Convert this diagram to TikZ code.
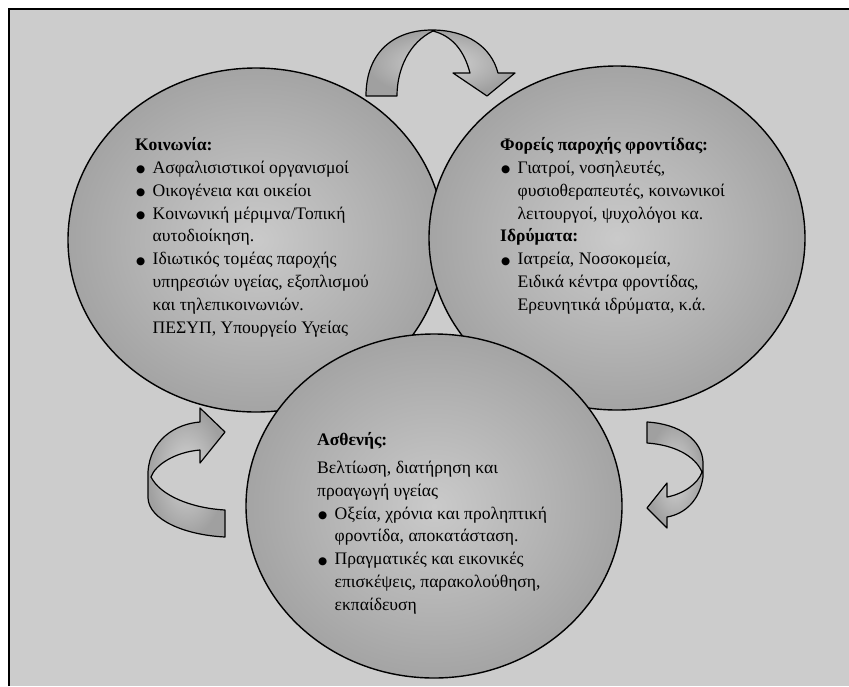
\documentclass[tikz,border=0pt]{standalone}
\usepackage{fontspec}
\setmainfont{Liberation Serif}
\newfontfamily\symfont{DejaVu Sans}
\usetikzlibrary{shapes.geometric}
\definecolor{bg}{RGB}{204,204,204}
\definecolor{ellin}{RGB}{202,202,202}
\definecolor{ellout}{RGB}{164,164,164}
\definecolor{arrin}{RGB}{214,214,214}
\definecolor{arrout}{RGB}{160,160,160}
\newcommand{\bl}{\makebox[17.5pt][l]{\hspace{1pt}\raisebox{0.6pt}{\symfont\fontsize{10.5}{10.5}\selectfont ●}}}
\newcommand{\nb}{\makebox[17.5pt][l]{}}
\begin{document}
\begin{tikzpicture}[x=1pt,y=-1pt,
  circ/.style={ellipse, draw=black, line width=1.4pt, shade, inner color=ellin, outer color=ellout,
    minimum width=376pt, minimum height=344pt, inner sep=0pt},
  txt/.style={anchor=north west, inner sep=0pt, align=left, font=\fontsize{17.6}{22.8}\selectfont},
  blockarrow/.style={draw=black, line width=1.2pt, line join=round, shade, inner color=arrin, outer color=arrout}
]
\useasboundingbox (0,0) rectangle (849,686);
\fill[white] (0,0) rectangle (849,686);
\fill[bg] (9,9) rectangle (849,686);
\draw[line width=2pt] (9,686) -- (9,9) -- (849,9);

% circles
\node[circ] (soc) at (256,240) {};
\node[circ] (prov) at (617,238) {};
\node[circ] (pat) at (434,506) {};

% top arrow
\draw[blockarrow] (366,96) .. controls (366,52) and (394,30) .. (432,30)
  .. controls (466,30) and (491,46) .. (498,73)
  -- (515,73) -- (487,96) -- (453,73) -- (470,73)
  .. controls (464,50) and (452,36) .. (433,31)
  .. controls (410,42) and (397,68) .. (397,96) -- cycle;

% left arrow
\draw[blockarrow] (225,537) .. controls (185,535) and (149,520) .. (148,498)
  -- (148,472) .. controls (150,440) and (175,424) .. (200,422)
  -- (200,408) -- (225,432) -- (200,463) -- (200,450)
  .. controls (175,452) and (155,465) .. (151,477)
  .. controls (160,495) and (190,508) .. (225,510) -- cycle;

% right arrow
\draw[blockarrow] (647,422) .. controls (680,424) and (702,440) .. (703,462)
  -- (703,477) .. controls (700,500) and (685,514) .. (667,517)
  -- (667,528) -- (647,508) -- (667,483) -- (667,497)
  .. controls (683,494) and (698,484) .. (702,472)
  .. controls (695,456) and (675,445) .. (647,443) -- cycle;

% texts
\node[txt] (soctxt) at (135,134.6) {\strut\textbf{Κοινωνία:}\\
\bl Ασφαλισιστικοί οργανισμοί\\
\bl Οικογένεια και οικείοι\\
\bl Κοινωνική μέριμνα/Τοπική\\
\nb αυτοδιοίκηση.\\
\bl Ιδιωτικός τομέας παροχής\\
\nb υπηρεσιών υγείας, εξοπλισμού\\
\nb και τηλεπικοινωνιών.\\
\nb ΠΕΣΥΠ, Υπουργείο Υγείας};

\node[txt] (provtxt) at (500,134.6) {\strut\textbf{Φορείς παροχής φροντίδας:}\\
\bl Γιατροί, νοσηλευτές,\\
\nb φυσιοθεραπευτές, κοινωνικοί\\
\nb λειτουργοί, ψυχολόγοι κα.\\
\textbf{Ιδρύματα:}\\
\bl Ιατρεία, Νοσοκομεία,\\
\nb Ειδικά κέντρα φροντίδας,\\
\nb Ερευνητικά ιδρύματα, κ.ά.};

\node[txt] (pattxt) at (317,429.6) {\strut\textbf{Ασθενής:}\\[5pt]
Βελτίωση, διατήρηση και\\
προαγωγή υγείας\\
\bl Οξεία, χρόνια και προληπτική\\
\nb φροντίδα, αποκατάσταση.\\
\bl Πραγματικές και εικονικές\\
\nb επισκέψεις, παρακολούθηση,\\
\nb εκπαίδευση};
\end{tikzpicture}
\end{document}
